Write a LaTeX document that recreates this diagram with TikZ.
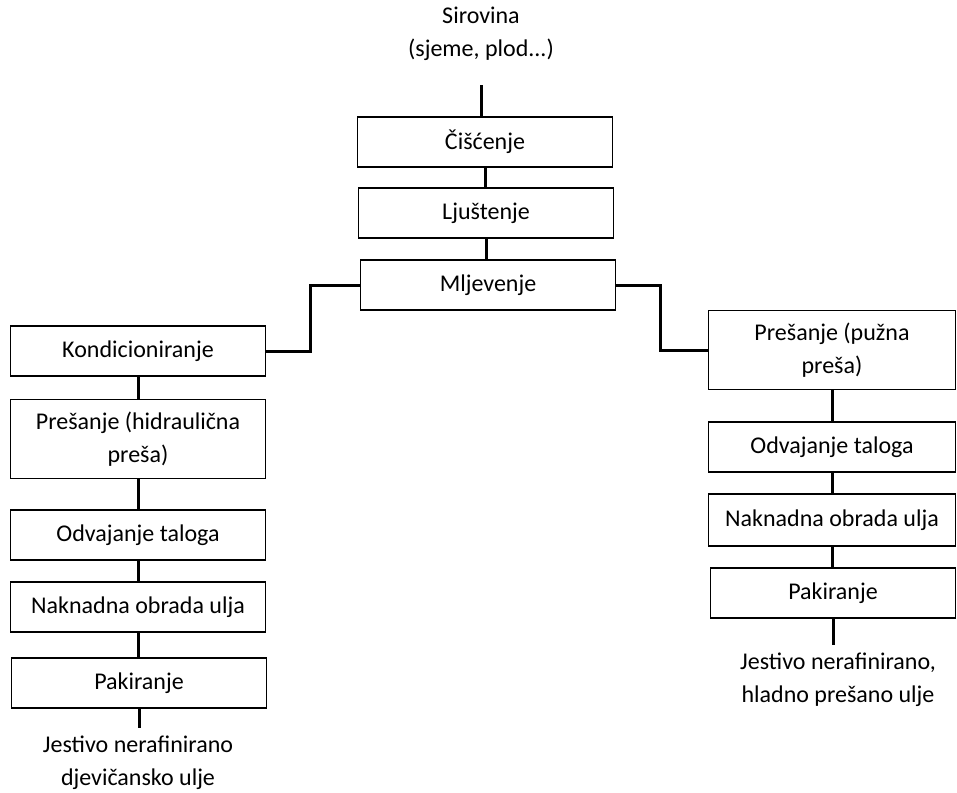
\documentclass[tikz,border=0pt]{standalone}
\usepackage{fontspec}
\setmainfont{Carlito}
\begin{document}
\begin{tikzpicture}[
x=1pt, y=-1pt,
font=\fontsize{24}{33}\selectfont,
box/.style={draw, line width=1.4pt, align=center, inner sep=0pt, minimum width=255pt, minimum height=50pt},
tallbox/.style={box, minimum height=79pt},
link/.style={line width=3pt},
endtext/.style={align=center, inner sep=0pt}
]
\useasboundingbox (0,0) rectangle (957,792);
% middle column
\node[endtext] (src) at (481,34) {Sirovina\\ (sjeme, plod...)};
\node[box] (cis) at (485,142) {Čišćenje};
\node[box] (lju) at (486,213) {Ljuštenje};
\node[box] (mlj) at (488,285) {Mljevenje};
% left branch
\node[box] (kond) at (138,351) {Kondicioniranje};
\node[tallbox] (hid) at (138,439) {Prešanje (hidraulična\\preša)};
\node[box] (odvl) at (138,535) {Odvajanje taloga};
\node[box] (nakl) at (138,607) {Naknadna obrada ulja};
\node[box] (pakl) at (139,683) {Pakiranje};
\node[endtext] (outl) at (138,763) {Jestivo nerafinirano\\djevičansko ulje};
% right branch
\node[tallbox, minimum width=247pt] (puz) at (832,350) {Prešanje (pužna\\preša)};
\node[box, minimum width=247pt] (odvr) at (832,447) {Odvajanje taloga};
\node[box, minimum width=247pt, minimum height=52pt] (nakr) at (832,520) {Naknadna obrada ulja};
\node[box, minimum width=245pt] (pakr) at (833,593) {Pakiranje};
\node[endtext] (outr) at (838,680) {Jestivo nerafinirano,\\hladno prešano ulje};
% connectors
\draw[link, shorten <=24pt] (src.south) -- (src.south |- cis.north);
\draw[link] (cis.south) -- (cis.south |- lju.north);
\draw[link] (lju.south) -- (lju.south |- mlj.north);
\draw[link] (mlj.west) -- ++(-49,0) |- (kond.east);
\draw[link] (mlj.east) -- ++(44,0) |- (puz.west);
\draw[link] (kond) -- (hid);
\draw[link] (hid) -- (odvl);
\draw[link] (odvl) -- (nakl);
\draw[link] (nakl.south) -- (nakl.south |- pakl.north);
\draw[link, shorten >=8pt] (pakl.south) -- (pakl.south |- outl.north);
\draw[link] (puz) -- (odvr);
\draw[link] (odvr) -- (nakr);
\draw[link] (nakr.south) -- (nakr.south |- pakr.north);
\draw[link, shorten >=8pt] (pakr.south) -- (pakr.south |- outr.north);
\end{tikzpicture}
\end{document}
